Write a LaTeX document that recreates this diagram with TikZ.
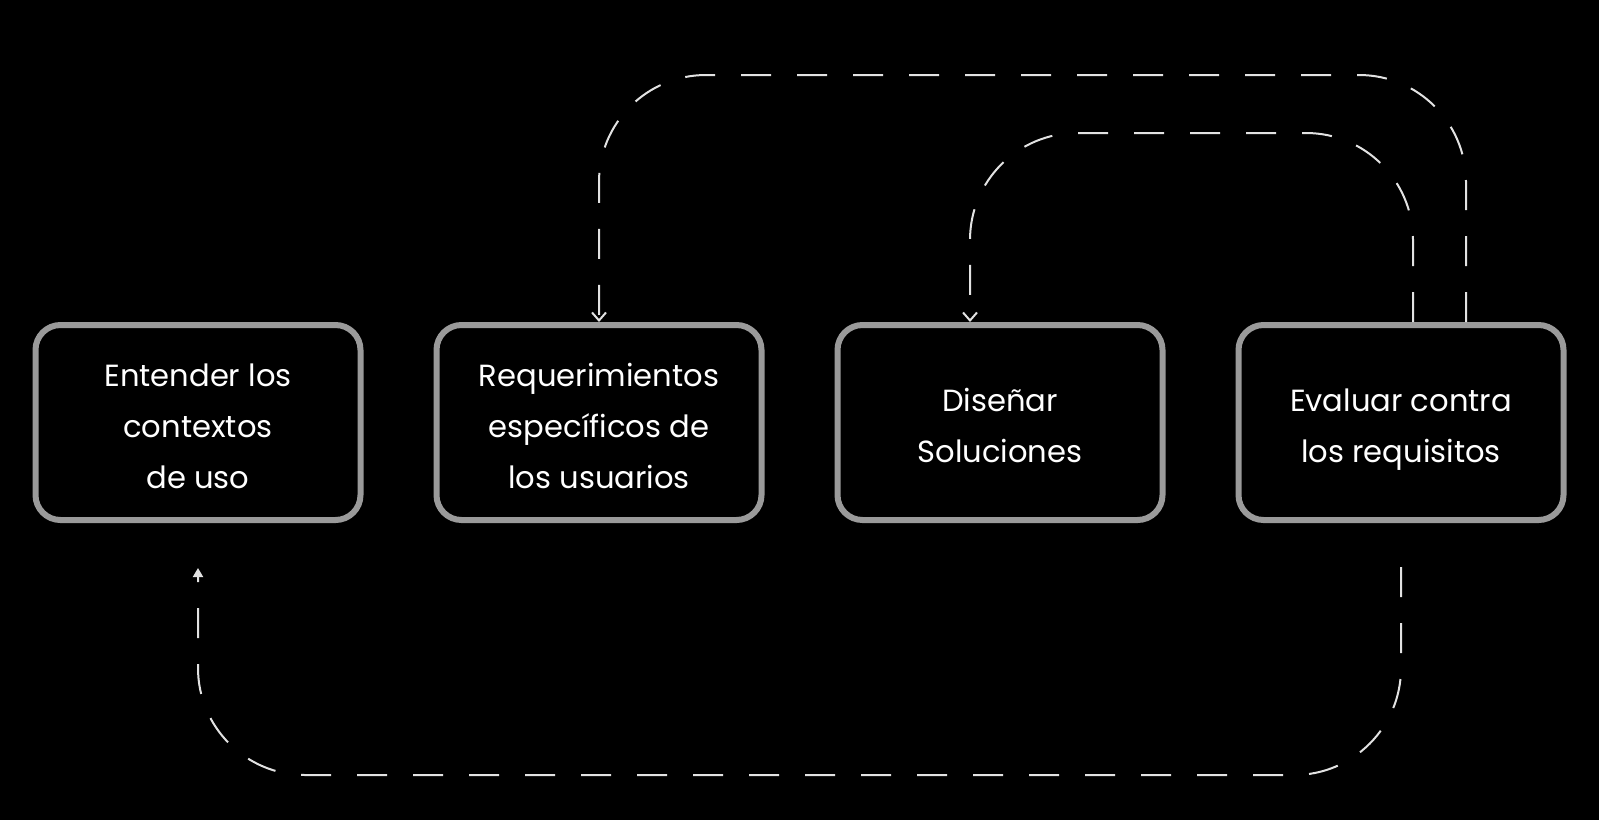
\documentclass[tikz,border=0pt]{standalone}
\usepackage{fontspec}
\setmainfont{Poppins}
\usetikzlibrary{arrows.meta}
\definecolor{boxgray}{HTML}{9A9A9A}
\definecolor{linegray}{HTML}{E2E2E2}
\newcommand\toprl{\rule{0pt}{19pt}}
\newcommand\botrl{\rule[-4.5pt]{0pt}{4.5pt}}
\tikzset{
  stepbox/.style={draw=boxgray, line width=3pt, rounded corners=12.5pt, fill=black,
    minimum width=162.5pt, minimum height=97.5pt, inner sep=0pt, text=white,
    align=center, font=\fontsize{15.3pt}{25.5pt}\selectfont},
  loopline/.style={draw=linegray, line width=1pt, dash pattern=on 15pt off 13pt,
    rounded corners=53.5pt},
  opentip/.style={-{Straight Barb[length=4pt,width=7pt,line width=1pt]}},
  filltip/.style={-{Triangle[length=4.5pt,width=5pt]}}
}
\begin{document}
\begin{tikzpicture}[x=0.5pt,y=-0.5pt]
\fill[black] (0,0) rectangle (1599,820);
\useasboundingbox (0,0) rectangle (1599,820);
\node[stepbox] (b1) at (198,422.5) {\toprl Entender los\\contextos\\de uso\botrl};
\node[stepbox] (b2) at (599,422.5) {\toprl Requerimientos\\específicos de\\los usuarios\botrl};
\node[stepbox] (b3) at (1000,422.5) {\toprl Diseñar\\Soluciones\botrl};
\node[stepbox] (b4) at (1401,422.5) {\toprl Evaluar contra\\los requisitos\botrl};
\draw[loopline,opentip] ([xshift=32.5pt]b4.north) -- ++(0,-247) -| (b2.north);
\draw[loopline,opentip] ([xshift=6pt]b4.north) -- ++(0,-189) -| ([xshift=-15pt]b3.north);
\draw[loopline,filltip] ([yshift=-22pt]b4.south) -- ++(0,208) -| ([yshift=-22.5pt]b1.south);
\end{tikzpicture}
\end{document}
